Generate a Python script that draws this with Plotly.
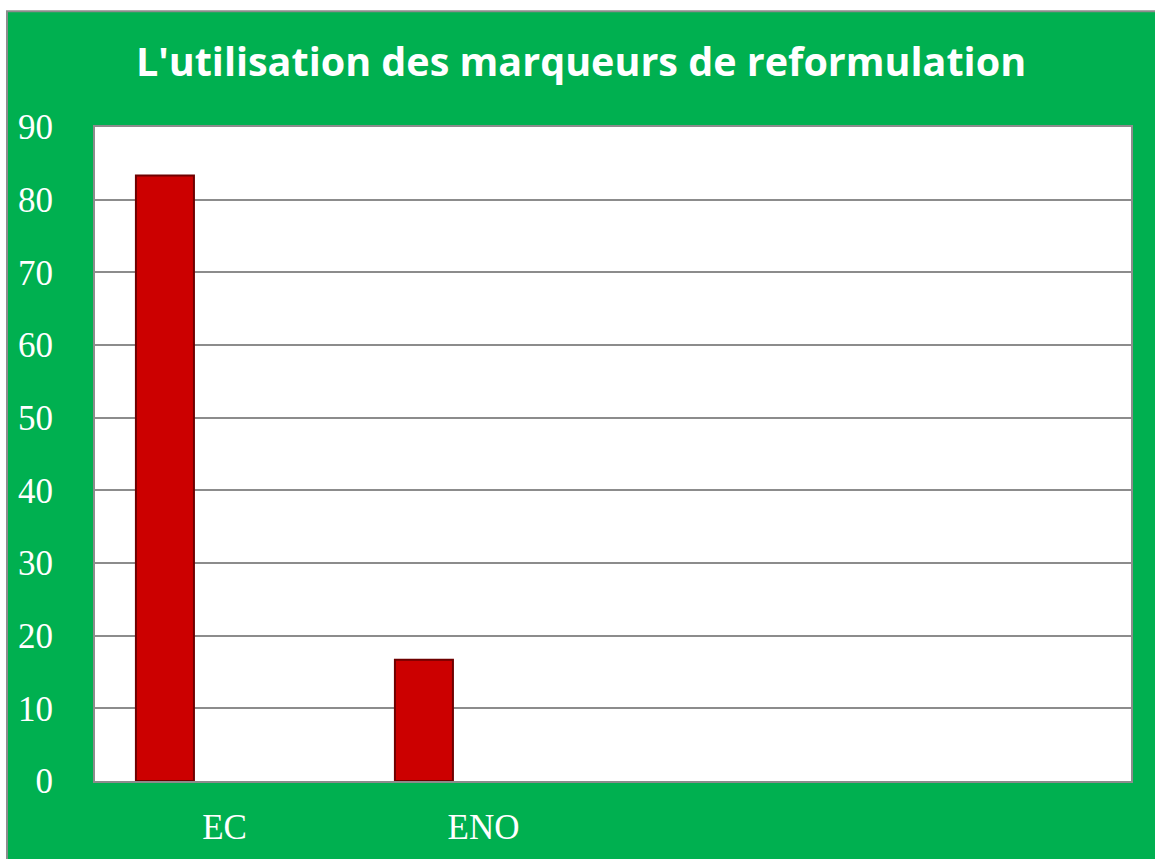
import plotly.graph_objects as go

categories = ["EC", "ENO", "", ""]
positions = [0, 1, 2, 3]
values = [83.33, 16.67]
ytick_vals = [0, 10, 20, 30, 40, 50, 60, 70, 80, 90]

GREEN = "#00B050"
GRID = "#8C8C8C"

fig = go.Figure()
fig.add_trace(go.Bar(
    x=positions[:len(values)], y=values,
    width=0.224, offset=-0.342,
    marker=dict(color="#CC0000", line=dict(color="#6E0000", width=2)),
    hoverinfo="x+y",
))

W, H = 1155, 859
L, R, T, B = 95, 24, 127, 76
pw, ph = W - L - R, H - T - B

fig.update_layout(
    width=W, height=H,
    paper_bgcolor="white",
    plot_bgcolor="white",
    margin=dict(l=L, r=R, t=T, b=B),
    showlegend=False,
    title=dict(
        text="<b>L'utilisation des marqueurs de reformulation</b>",
        font=dict(family="Open Sans", size=39.5, color="white"),
        x=581 / W, xref="container", xanchor="center",
        y=1 - 62 / H, yref="container", yanchor="middle",
    ),
    xaxis=dict(
        range=[-0.5, 3.5],
        tickvals=positions, ticktext=categories,
        showgrid=False, zeroline=False,
        showline=True, linecolor=GRID, linewidth=2, mirror=True,
        ticks="", ticklabelstandoff=14,
        tickfont=dict(family="Liberation Serif", size=35, color="white"),
    ),
    yaxis=dict(
        range=[0, 90],
        tickvals=ytick_vals,
        showgrid=True, gridcolor=GRID, gridwidth=1.5,
        zeroline=False,
        showline=True, linecolor=GRID, linewidth=2, mirror=True,
        ticks="", ticklabelstandoff=33,
        tickfont=dict(family="Liberation Serif", size=35, color="white"),
    ),
    shapes=[
        dict(type="rect", xref="paper", yref="paper", layer="below",
             x0=-(L - 7) / pw, x1=1 + (R + 5) / pw,
             y0=-(B + 5) / ph, y1=1 + (T - 11) / ph,
             fillcolor=GREEN, line=dict(color=GRID, width=2)),
        dict(type="rect", xref="paper", yref="paper", layer="below",
             x0=0, x1=1, y0=0, y1=1,
             fillcolor="white", line=dict(width=0)),
    ],
)

fig.write_html(
    "out.html",
    config={"displayModeBar": False},
    post_script="document.body.style.margin='0';document.body.style.overflow='hidden';",
)
